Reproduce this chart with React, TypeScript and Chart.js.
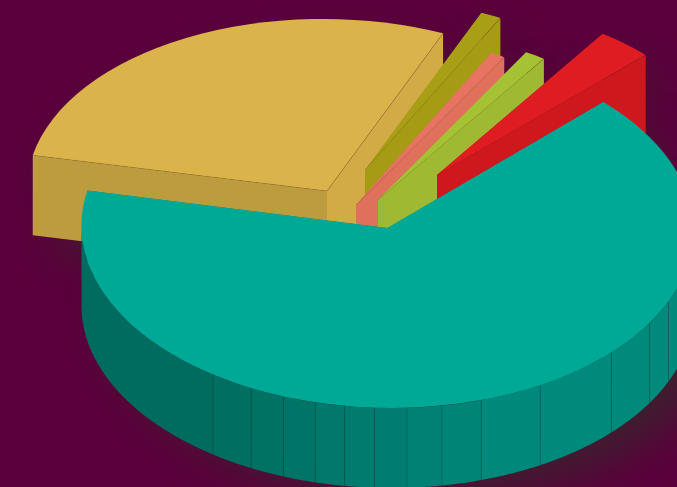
import React, { useEffect, useRef } from "react";
import { Chart, registerables } from "chart.js";

Chart.register(...registerables);

const categories = ["Gold", "Olive", "Salmon", "Lime", "Red", "Teal"];
const shares = [28.2, 1.14, 0.8, 1.14, 3.06, 65.66];
const topColors = ["#DAB44A", "#A99F17", "#E77461", "#A5C134", "#DE1C22", "#00A896"];
const startWallColors = ["#BD9C3F", "#A69B14", "#DE705C", "#9FB932", "#CF181D", "#008A7C"];
const endWallColors = ["#D2AB46", "#A69B14", "#DE705C", "#9FB932", "#CF181D", "#008A7C"];

// pull-out of every slice from the pie centre, in canvas pixels
const pullX = [-11.5, 26.5, 17.5, 39.5, 98.5, 49];
const pullY = [-52.5, -73.5, -38.5, -43.5, -68.5, -15.5];
// on-screen radii and shear per slice (far slices look smaller)
const radiusX = [300, 292, 292, 292, 292, 306];
const radiusY = [172, 171.6, 171.6, 171.6, 171.6, 180];
const shearX = [4, 0, 0, 0, 0, 4];
// canvas angles (degrees) of the seams on the curved wall
const seamAngles = [24.1, 31.8, 43.7, 60.8, 72.9, 80.5, 87.1, 93.2, 98.8, 104.4, 110.6, 117.2, 125.5];

const DEPTH = 80;
const LAST = categories.length - 1;

const mix = (t: number) => {
  const k = Math.max(0, Math.min(1, t));
  return `rgb(0,${Math.round(108 + (138 - 108) * k)},${Math.round(95 + (124 - 95) * k)})`;
};

const placeSlice = (ctx: any, arc: any, i: number, dx = 0, dy = 0) => {
  ctx.translate(arc.x + pullX[i] + dx, arc.y + pullY[i] + dy);
  const k = 1 / arc.outerRadius;
  ctx.transform(radiusX[i] * k, 0, shearX[i] * k, radiusY[i] * k, 0, 0);
};

const pie3d = {
  id: "pie3d",
  beforeDraw(chart: any) {
    const { ctx, width, height } = chart;
    ctx.save();
    ctx.fillStyle = "#5B003C";
    ctx.fillRect(0, 0, width, height);
    ctx.filter = "blur(22px)";
    ctx.fillStyle = "rgba(58,34,44,0.9)";
    const shadow = (arc: any, i: number, dx: number, dy: number) => {
      ctx.save();
      placeSlice(ctx, arc, i, dx, dy);
      ctx.beginPath();
      ctx.moveTo(0, 0);
      ctx.arc(0, 0, arc.outerRadius, arc.startAngle, arc.endAngle);
      ctx.closePath();
      ctx.fill();
      ctx.restore();
    };
    chart.getDatasetMeta(0).data.forEach((arc: any, i: number) => {
      if (i === LAST) {
        shadow(arc, i, 30, DEPTH + 10);
      } else {
        shadow(arc, i, 14, 30);
        shadow(arc, i, 22, DEPTH + 16);
      }
    });
    ctx.filter = "none";
    ctx.restore();
  },
  beforeDatasetDraw(chart: any) {
    const { ctx } = chart;
    const arcs = chart.getDatasetMeta(0).data;
    arcs.forEach((arc: any, i: number) => {
      const ax = arc.x + pullX[i];
      const ay = arc.y + pullY[i];
      const pt = (t: number) => [
        ax + radiusX[i] * Math.cos(t) + shearX[i] * Math.sin(t),
        ay + radiusY[i] * Math.sin(t),
      ];
      const wall = (t: number, color: string) => {
        const [ex, ey] = pt(t);
        ctx.fillStyle = color;
        ctx.beginPath();
        ctx.moveTo(ax, ay);
        ctx.lineTo(ex, ey);
        ctx.lineTo(ex, ey + DEPTH);
        ctx.lineTo(ax, ay + DEPTH);
        ctx.closePath();
        ctx.fill();
      };
      const s = arc.startAngle;
      const e = arc.endAngle;
      wall(s, startWallColors[i]);
      wall(e, endWallColors[i]);

      // curved wall: only the part that faces the viewer
      if (i === LAST) {
        const turn = Math.PI * 2;
        const s0 = s > Math.PI ? s - turn : s;
        const e0 = s > Math.PI ? e - turn : e;
        const rad = (d: number) => (d * Math.PI) / 180;
        const lo = Math.max(s0, 0);
        const hi = Math.min(e0, Math.PI);
        const stops = [lo, ...seamAngles.map(rad), hi];
        for (let k = 0; k < stops.length - 1; k++) {
          const a0 = stops[k];
          const a1 = stops[k + 1];
          const midDeg = (((a0 + a1) / 2) * 180) / Math.PI;
          ctx.fillStyle = mix((125 - midDeg) / 60);
          ctx.beginPath();
          const n = 24;
          for (let j = 0; j <= n; j++) {
            const [x, y] = pt(a0 + ((a1 - a0) * j) / n);
            j ? ctx.lineTo(x, y) : ctx.moveTo(x, y);
          }
          for (let j = n; j >= 0; j--) {
            const [x, y] = pt(a0 + ((a1 - a0) * j) / n);
            ctx.lineTo(x, y + DEPTH);
          }
          ctx.closePath();
          ctx.fill();
        }
        ctx.strokeStyle = "rgba(0,70,62,0.3)";
        ctx.lineWidth = 1;
        for (const d of seamAngles) {
          const [x, y] = pt(rad(d));
          ctx.beginPath();
          ctx.moveTo(x, y);
          ctx.lineTo(x, y + DEPTH);
          ctx.stroke();
        }
      }

      // top face, drawn by the library's own arc element
      ctx.save();
      placeSlice(ctx, arc, i);
      ctx.translate(-arc.x, -arc.y);
      arc.draw(ctx);
      ctx.restore();

      // thin ridge lines
      if (i !== LAST) {
        ctx.strokeStyle = "rgba(60,30,20,0.26)";
        ctx.lineWidth = 0.7;
        const [ex, ey] = pt(e);
        ctx.beginPath();
        ctx.moveTo(ax, ay);
        ctx.lineTo(ex, ey);
        ctx.stroke();
        if (i === 0) {
          const [sx, sy] = pt(s);
          ctx.strokeStyle = "rgba(120,80,30,0.3)";
          ctx.beginPath();
          ctx.moveTo(ax, ay);
          ctx.lineTo(sx, sy);
          ctx.stroke();
        }
      }
    });
    return false;
  },
};

export default function App() {
  const ref = useRef<HTMLCanvasElement>(null);
  useEffect(() => {
    const chart = new Chart(ref.current as HTMLCanvasElement, {
      type: "pie",
      data: {
        labels: categories,
        datasets: [{ data: shares, backgroundColor: topColors, borderWidth: 0 }],
      },
      options: {
        responsive: false,
        animation: false,
        rotation: 282,
        layout: { padding: 0 },
        plugins: { legend: { display: false }, tooltip: { enabled: false } },
      },
      plugins: [pie3d],
    } as any);
    return () => chart.destroy();
  }, []);
  return (
    <div style={{ position: "fixed", left: 0, top: 0, width: 677, height: 487, overflow: "hidden" }}>
      <canvas ref={ref} width={677} height={487} style={{ display: "block" }} />
    </div>
  );
}
